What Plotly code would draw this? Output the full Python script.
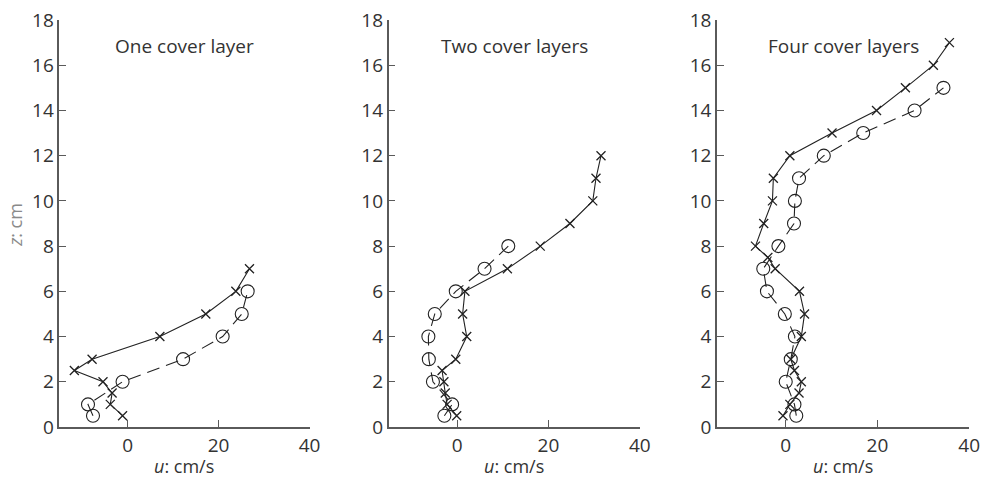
import plotly.graph_objects as go

W, H = 992, 477

panel_titles = ["One cover layer", "Two cover layers", "Four cover layers"]

# Panel 1: one cover layer
z1_x = [0.5, 1.0, 1.5, 2.0, 2.5, 3.0, 4.0, 5.0, 6.0, 7.0]
u1_x = [-1.1, -3.8, -3.4, -5.4, -11.7, -7.8, 7.1, 17.2, 23.8, 26.8]
z1_o = [0.5, 1.0, 2.0, 3.0, 4.0, 5.0, 6.0]
u1_o = [-7.6, -8.7, -1.1, 12.2, 20.9, 25.1, 26.4]

# Panel 2: two cover layers
z2_x = [0.5, 1.0, 1.5, 2.0, 2.5, 3.0, 4.0, 5.0, 6.0, 7.0, 8.0, 9.0, 10.0, 11.0, 12.0]
u2_x = [-0.1, -2.2, -2.6, -2.9, -3.3, -0.3, 2.1, 1.2, 1.7, 11.0, 18.2, 24.7, 29.7, 30.4, 31.5]
z2_o = [0.5, 1.0, 2.0, 3.0, 4.0, 5.0, 6.0, 7.0, 8.0]
u2_o = [-2.8, -1.1, -5.3, -6.2, -6.3, -4.9, -0.3, 6.0, 11.2]

# Panel 3: four cover layers
z3_x = [0.5, 1.0, 1.5, 2.0, 2.5, 3.0, 4.0, 5.0, 6.0, 7.0, 7.5, 8.0, 9.0, 10.0, 11.0,
        12.0, 13.0, 14.0, 15.0, 16.0, 17.0]
u3_x = [-0.6, 0.9, 2.9, 3.4, 1.9, 1.1, 3.4, 4.1, 3.0, -2.3, -3.9, -6.6, -4.8, -2.9, -2.7,
        0.9, 10.1, 19.8, 26.1, 32.2, 35.7]
z3_o = [0.5, 1.0, 2.0, 3.0, 4.0, 5.0, 6.0, 7.0, 8.0, 9.0, 10.0, 11.0, 12.0, 13.0, 14.0, 15.0]
u3_o = [2.3, 1.9, 0.0, 1.1, 2.0, -0.2, -4.1, -4.9, -1.6, 1.8, 2.0, 2.9, 8.3, 16.9, 28.1, 34.4]

x_range = [-15, 40]
x_ticks = [0, 20, 40]
y_range = [0, 18]
y_ticks = [0, 2, 4, 6, 8, 10, 12, 14, 16, 18]

panels = [(u1_x, z1_x, u1_o, z1_o), (u2_x, z2_x, u2_o, z2_o), (u3_x, z3_x, u3_o, z3_o)]

# pixel layout of plot areas
dom_px = [(60, 313), (393, 647), (725, 980)]
top_px, bot_px = 20, 427

FONT = "Open Sans, Noto Sans, sans-serif"
INK = "#222222"
AXC = "#5a5a5a"

fig = go.Figure()
layout = dict(
    width=W, height=H,
    margin=dict(l=0, r=0, t=top_px, b=H - bot_px),
    paper_bgcolor="white", plot_bgcolor="white",
    showlegend=False,
    font=dict(family=FONT, size=19, color="#333333"),
)
annotations = []
for i, (ux, zx, uo, zo) in enumerate(panels):
    n = "" if i == 0 else str(i + 1)
    xa, ya = "x" + n, "y" + n
    fig.add_trace(go.Scatter(
        x=uo, y=zo, mode="lines+markers", xaxis=xa, yaxis=ya,
        line=dict(color=INK, width=1.1, dash="13px,7px"),
        marker=dict(symbol="circle-open", size=13, color=INK, line=dict(width=1.1)),
    ))
    fig.add_trace(go.Scatter(
        x=ux, y=zx, mode="lines+markers", xaxis=xa, yaxis=ya,
        line=dict(color=INK, width=1.1),
        marker=dict(symbol="x-thin-open", size=9, color=INK, line=dict(width=1.3, color=INK)),
    ))
    x0, x1 = dom_px[i]
    layout["xaxis" + n] = dict(
        domain=[x0 / W, x1 / W], range=x_range, tickvals=x_ticks,
        showline=True, linecolor=AXC, linewidth=1.5, showgrid=False, zeroline=False,
        ticks="inside", ticklen=7, tickcolor=AXC, tickwidth=1.3,
        tickfont=dict(size=19, color="#333333"), anchor=ya, fixedrange=True,
    )
    layout["yaxis" + n] = dict(
        domain=[0, 1], range=y_range, tickvals=y_ticks,
        showline=True, linecolor=AXC, linewidth=1.5, showgrid=False, zeroline=False,
        ticks="inside", ticklen=7, tickcolor=AXC, tickwidth=1.3,
        tickfont=dict(size=19, color="#333333"), anchor=xa, fixedrange=True,
    )
    cx = (x0 + x1) / 2 / W
    annotations.append(dict(
        text=panel_titles[i], xref="paper", yref="paper",
        x=cx, y=1 - (46 - top_px) / (bot_px - top_px), xanchor="center", yanchor="middle",
        showarrow=False, font=dict(size=19, color="#333333", family=FONT),
    ))
    annotations.append(dict(
        text="<i>u</i>: cm/s", xref="paper", yref="paper",
        x=cx, y=-(466 - bot_px) / (bot_px - top_px), xanchor="center", yanchor="middle",
        showarrow=False, font=dict(size=18, color="#333333", family=FONT),
    ))

annotations.append(dict(
    text="<i>z</i>: cm", xref="paper", yref="paper",
    x=(15 - 0) / W, y=1 - (225 - top_px) / (bot_px - top_px), xanchor="center", yanchor="middle",
    textangle=-90, showarrow=False, font=dict(size=18, color="#8a8a8a", family=FONT),
))
layout["annotations"] = annotations
fig.update_layout(**layout)
fig.write_html("out.html")
